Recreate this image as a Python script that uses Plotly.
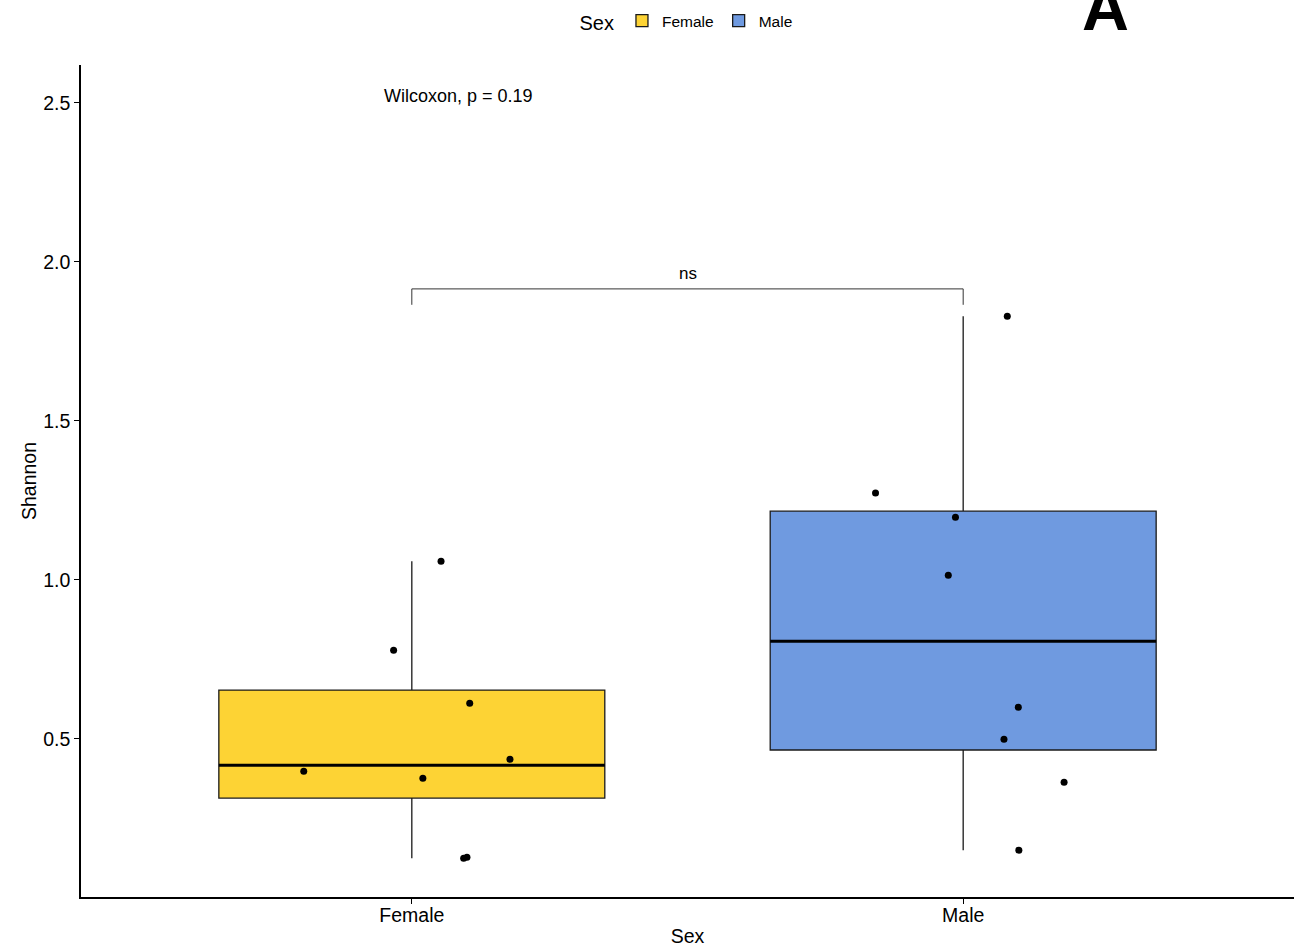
import numpy as np
import plotly.graph_objects as go

groups = ["Female", "Male"]
colors = ["#FDD334", "#6F9AE0"]
female_vals = [0.398, 0.779, 1.059, 0.612, 0.436, 0.376, 0.125, 0.128]
female_jitter = [-0.196, -0.033, 0.053, 0.105, 0.178, 0.020, 0.094, 0.100]
male_vals = [1.273, 1.197, 1.015, 1.829, 0.600, 0.499, 0.364, 0.150]
male_jitter = [-0.159, -0.014, -0.027, 0.080, 0.100, 0.074, 0.183, 0.101]
y_ticks = [0.5, 1.0, 1.5, 2.0, 2.5]
test_label = "Wilcoxon, p = 0.19"
sig_label = "ns"

data = [female_vals, male_vals]
jit = [female_jitter, male_jitter]
FONT = "Liberation Sans, Arial, sans-serif"
BW = 0.7

fig = go.Figure()
for i, (g, vals, c) in enumerate(zip(groups, data, colors)):
    xpos = i + 1
    v = np.array(vals)
    q1, med, q3 = np.percentile(v, [25, 50, 75])
    iqr = q3 - q1
    lo = v[v >= q1 - 1.5 * iqr].min()
    hi = v[v <= q3 + 1.5 * iqr].max()
    fig.add_trace(go.Box(
        x=[xpos], q1=[q1], median=[med], q3=[q3], lowerfence=[lo], upperfence=[hi],
        name=g, width=BW, fillcolor=c, line=dict(color="#1a1a1a", width=1.3),
        whiskerwidth=0, boxpoints=False, hoverinfo="skip", showlegend=True,
        legendgroup=g,
    ))
    # thick median line
    fig.add_trace(go.Scatter(
        x=[xpos - BW / 2, xpos + BW / 2], y=[med, med], mode="lines",
        line=dict(color="black", width=3), showlegend=False, hoverinfo="skip",
    ))
    fig.add_trace(go.Scatter(
        x=[xpos + j for j in jit[i]], y=vals, mode="markers",
        marker=dict(color="black", size=7), showlegend=False, hoverinfo="skip",
    ))

# significance bracket
br_y = 1.915
tick_lo = 1.865
fig.add_trace(go.Scatter(
    x=[1, 1, 2, 2], y=[tick_lo, br_y, br_y, tick_lo], mode="lines",
    line=dict(color="#333333", width=1), showlegend=False, hoverinfo="skip",
))
fig.add_annotation(x=1.5, y=1.962, text=sig_label, showarrow=False,
                   font=dict(size=17, color="black", family=FONT), xref="x", yref="y")
fig.add_annotation(x=0.946, y=2.522, text=test_label, showarrow=False, xanchor="left",
                   font=dict(size=18, color="black", family=FONT), xref="x", yref="y")
fig.add_annotation(x=(1107 - 413) / 552 + 1, y=1.0697, xref="x", yref="paper",
                   text="<b>A</b>", showarrow=False,
                   font=dict(size=65, color="black", family=FONT), yanchor="middle")

fig.update_layout(
    width=1294, height=948,
    margin=dict(l=81, r=0, t=65, b=51, autoexpand=False),
    plot_bgcolor="white", paper_bgcolor="white",
    font=dict(family=FONT, color="black", size=15),
    legend=dict(orientation="h", x=0.5, xanchor="center", y=1.0517, yanchor="middle",
                title=dict(text="Sex", font=dict(size=20)), font=dict(size=15.5),
                itemwidth=30),
    xaxis=dict(range=[0.4, 2.6], tickvals=[1, 2], ticktext=groups, showgrid=False,
               zeroline=False, showline=True, linecolor="black", linewidth=1.5,
               ticks="outside", ticklen=5, tickcolor="black",
               ticklabelstandoff=-5,
               title=dict(text="Sex", font=dict(size=19.5), standoff=4),
               tickfont=dict(size=19.5)),
    yaxis=dict(range=[0.003, 2.619], tickvals=y_ticks, ticktext=[f"{t:.1f}" for t in y_ticks],
               showgrid=False, zeroline=False, showline=True, linecolor="black", linewidth=1.5,
               ticks="outside", ticklen=5, tickcolor="black",
               title=dict(text="Shannon", font=dict(size=19.5), standoff=1),
               tickfont=dict(size=19.5)),
)

fig.write_html(
    "out.html",
    config={"displayModeBar": False},
    post_script="document.body.style.margin='0px';document.body.style.overflow='hidden';",
)
